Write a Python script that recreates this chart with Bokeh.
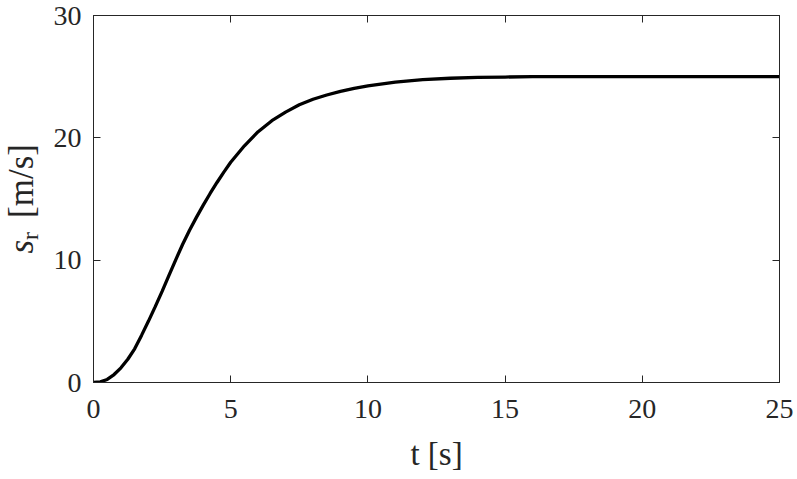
from bokeh.plotting import figure
from bokeh.models import LinearAxis, FixedTicker, Div
from bokeh.layouts import row
from bokeh.embed import file_html
from bokeh.resources import INLINE

# ---- data ----
t_values = [0, 0.25, 0.5, 0.75, 1.0, 1.25, 1.5, 1.75, 2.0, 2.25, 2.5, 2.75,
            3.0, 3.25, 3.5, 3.75, 4.0, 4.25, 4.5, 4.75, 5.0, 5.5, 6.0, 6.5,
            7.0, 7.5, 8.0, 8.5, 9.0, 9.5, 10.0, 11.0, 12.0, 13.0, 14.0, 15.0,
            16.0, 20.0, 25.0]
s_values = [0, 0.05, 0.25, 0.65, 1.2, 1.9, 2.75, 3.85, 5.0, 6.2, 7.45, 8.75,
            10.05, 11.3, 12.45, 13.5, 14.5, 15.45, 16.35, 17.2, 18.0, 19.35, 20.5, 21.4,
            22.1, 22.7, 23.15, 23.5, 23.8, 24.05, 24.25, 24.55, 24.75, 24.87, 24.94, 24.97,
            25.0, 25.0, 25.0]

x_ticks = [0, 5, 10, 15, 20, 25]
y_ticks = [0, 10, 20, 30]
x_label = "t [s]"
y_label_var = "s"
y_label_sub = "r"
y_label_unit = "[m/s]"

FONT = "Liberation Serif"
INK = "#262626"
W, H = 797, 479
LABEL_W = 45

# ---- main plot ----
p = figure(width=W - LABEL_W, height=H, x_range=(0, 25), y_range=(0, 30),
           output_backend="svg", toolbar_location=None,
           min_border_left=48, min_border_right=18, min_border_top=15,
           min_border_bottom=97)
p.grid.visible = False
p.outline_line_color = INK
p.outline_line_width = 1
p.background_fill_color = "white"
p.border_fill_color = "white"

p.line(t_values, s_values, line_color="black", line_width=3.3)


def style_axis(ax, ticks, show_labels=True):
    ax.ticker = FixedTicker(ticks=ticks)
    ax.major_tick_in = 7
    ax.major_tick_out = 0
    ax.minor_tick_in = 0
    ax.minor_tick_out = 0
    ax.axis_line_color = INK
    ax.major_tick_line_color = INK
    ax.major_label_text_font = FONT
    ax.major_label_text_color = INK
    if show_labels:
        ax.major_label_text_font_size = "28px"
        ax.major_label_overrides = {v: str(v) for v in ticks}
    else:
        ax.major_label_text_font_size = "1px"
        ax.major_label_standoff = 0
        ax.major_label_overrides = {v: "" for v in ticks}


style_axis(p.xaxis[0], x_ticks)
style_axis(p.yaxis[0], y_ticks)
p.xaxis[0].major_label_standoff = 17
p.yaxis[0].major_label_standoff = 12

p.xaxis[0].axis_label = x_label
p.xaxis[0].axis_label_text_font = FONT
p.xaxis[0].axis_label_text_font_style = "normal"
p.xaxis[0].axis_label_text_font_size = "33px"
p.xaxis[0].axis_label_text_color = INK
p.xaxis[0].axis_label_standoff = 15

right_axis = LinearAxis()
style_axis(right_axis, y_ticks, show_labels=False)
p.add_layout(right_axis, "right")

top_axis = LinearAxis()
style_axis(top_axis, x_ticks, show_labels=False)
p.add_layout(top_axis, "above")

# ---- y-axis label as real HTML text: italic s, subscript r, unit ----
y_html = (
    '<div style="width:%dpx;height:398px;display:flex;align-items:center;'
    'justify-content:center;">'
    '<span style="writing-mode:vertical-rl;transform:rotate(180deg);'
    "font-family:'%s';font-size:35px;color:%s;white-space:nowrap;line-height:1;\">"
    '<i>%s</i><sub style="font-size:24px;">%s</sub>'
    '<span style="display:inline-block;height:14px;"></span>%s</span></div>'
    % (LABEL_W, FONT, INK, y_label_var, y_label_sub, y_label_unit)
)
ylab = Div(text=y_html, width=LABEL_W, height=H, margin=0)

layout = row(ylab, p)
open("out.html", "w").write(file_html(layout, INLINE))
